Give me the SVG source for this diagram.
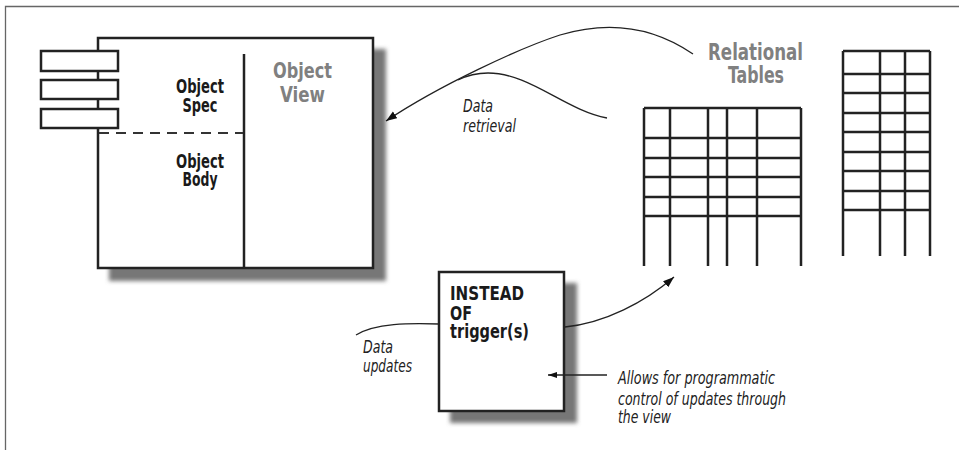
<svg xmlns="http://www.w3.org/2000/svg" width="959" height="450" viewBox="0 0 959 450">
<defs>
<style>
.ln{stroke:#222;stroke-width:2.5;fill:none}
.box{stroke:#222;stroke-width:2.5;fill:#fff}
.shadow{fill:#777;filter:url(#blur)}
.bold{font-family:"Liberation Sans Narrow","DejaVu Sans Condensed","Liberation Sans",sans-serif;font-weight:bold;fill:#1a1a1a}
.gray{font-family:"Liberation Sans Narrow","DejaVu Sans Condensed","Liberation Sans",sans-serif;font-weight:bold;fill:#808080}
.it{font-family:"Liberation Sans Narrow","DejaVu Sans Condensed","Liberation Sans",sans-serif;font-style:italic;fill:#222}
.conn{stroke:#222;stroke-width:1.3;fill:none}
</style>
<filter id="blur" x="-20%" y="-20%" width="140%" height="140%"><feGaussianBlur stdDeviation="2.2"/></filter>
<marker id="arr" markerUnits="userSpaceOnUse" markerWidth="12" markerHeight="9" refX="11" refY="4" orient="auto"><path d="M0,0 L11,4 L0,8 z" fill="#111"/></marker>
<marker id="arrs" markerUnits="userSpaceOnUse" markerWidth="10" markerHeight="7" refX="9" refY="3" orient="auto"><path d="M0,0 L9,3 L0,6 z" fill="#111"/></marker>
</defs>

<g id="frame" fill="none" stroke="#666" stroke-width="1.3">
<path d="M5.5,450 V6.5 H959"/>
</g>

<g id="object-view">
<rect class="shadow" x="109" y="49" width="277" height="232"/>
<rect class="box" x="98" y="38" width="275" height="230"/>
<line class="ln" x1="244" y1="54" x2="244" y2="268"/>
<line x1="99" y1="133" x2="243" y2="133" stroke="#333" stroke-width="2" stroke-dasharray="10,7"/>
<rect class="box" x="41" y="51" width="77" height="20"/>
<rect class="box" x="41" y="80" width="77" height="19"/>
<rect class="box" x="41" y="109" width="77" height="19"/>
<text class="bold" font-size="19" text-anchor="middle" x="200" y="93" textLength="48" lengthAdjust="spacingAndGlyphs">Object</text>
<text class="bold" font-size="19" text-anchor="middle" x="200" y="112" textLength="35" lengthAdjust="spacingAndGlyphs">Spec</text>
<text class="bold" font-size="19" text-anchor="middle" x="200" y="168" textLength="48" lengthAdjust="spacingAndGlyphs">Object</text>
<text class="bold" font-size="19" text-anchor="middle" x="200" y="186" textLength="35" lengthAdjust="spacingAndGlyphs">Body</text>
<text class="gray" font-size="22" text-anchor="middle" x="302.5" y="78" textLength="59" lengthAdjust="spacingAndGlyphs">Object</text>
<text class="gray" font-size="22" text-anchor="middle" x="302.5" y="102" textLength="45" lengthAdjust="spacingAndGlyphs">View</text>
</g>

<g id="relational-tables">
<text class="gray" font-size="23" text-anchor="middle" x="755.5" y="60" textLength="95" lengthAdjust="spacingAndGlyphs">Relational</text>
<text class="gray" font-size="23" text-anchor="middle" x="756" y="83" textLength="56" lengthAdjust="spacingAndGlyphs">Tables</text>
</g>

<g id="table-1" class="ln">
<path d="M644,108 H801 M644,138 H801 M644,158 H801 M644,177 H801 M644,197 H801 M644,216 H801"/>
<path d="M644,108 V266 M670,108 V266 M708,108 V266 M727,108 V266 M757,108 V266 M801,108 V266"/>
</g>

<g id="table-2" class="ln">
<path d="M843,51 H930 M843,74 H930 M843,93 H930 M843,113 H930 M843,132 H930 M843,152 H930 M843,171 H930 M843,191 H930 M843,210 H930"/>
<path d="M843,51 V256 M880,51 V256 M905,51 V256 M930,51 V256"/>
</g>

<g id="instead-trigger">
<rect class="shadow" x="450" y="283" width="127" height="140"/>
<rect class="box" x="439" y="272" width="125" height="139"/>
<text class="bold" font-size="20" x="450" y="300" textLength="74" lengthAdjust="spacingAndGlyphs">INSTEAD</text>
<text class="bold" font-size="20" x="450" y="320" textLength="22" lengthAdjust="spacingAndGlyphs">OF</text>
<text class="bold" font-size="20" x="450" y="338" textLength="79" lengthAdjust="spacingAndGlyphs">trigger(s)</text>
</g>

<g id="connectors">
<path class="conn" d="M693,54 C655,28 610,20 560,35 C520,48 440,85 386,121" marker-end="url(#arr)"/>
<path class="conn" d="M607,118 C565,110 530,73 488,73 C475,73 466,76 458,80"/>
<path class="conn" d="M565,327 C605,323 645,302 674,277" marker-end="url(#arr)"/>
<path class="conn" d="M439,324 C410,323 375,323 356,335"/>
<line class="conn" x1="607" y1="375" x2="548" y2="375" marker-end="url(#arrs)"/>
</g>

<g id="labels">
<text class="it" font-size="17" x="463" y="112" textLength="30" lengthAdjust="spacingAndGlyphs">Data</text>
<text class="it" font-size="17" x="463" y="132" textLength="53" lengthAdjust="spacingAndGlyphs">retrieval</text>
<text class="it" font-size="17" x="363" y="353" textLength="30" lengthAdjust="spacingAndGlyphs">Data</text>
<text class="it" font-size="17" x="363" y="372" textLength="49" lengthAdjust="spacingAndGlyphs">updates</text>
<text class="it" font-size="17" x="618" y="384" textLength="157" lengthAdjust="spacingAndGlyphs">Allows for programmatic</text>
<text class="it" font-size="17" x="618" y="405" textLength="168" lengthAdjust="spacingAndGlyphs">control of updates through</text>
<text class="it" font-size="17" x="618" y="423" textLength="53" lengthAdjust="spacingAndGlyphs">the view</text>
</g>
</svg>
